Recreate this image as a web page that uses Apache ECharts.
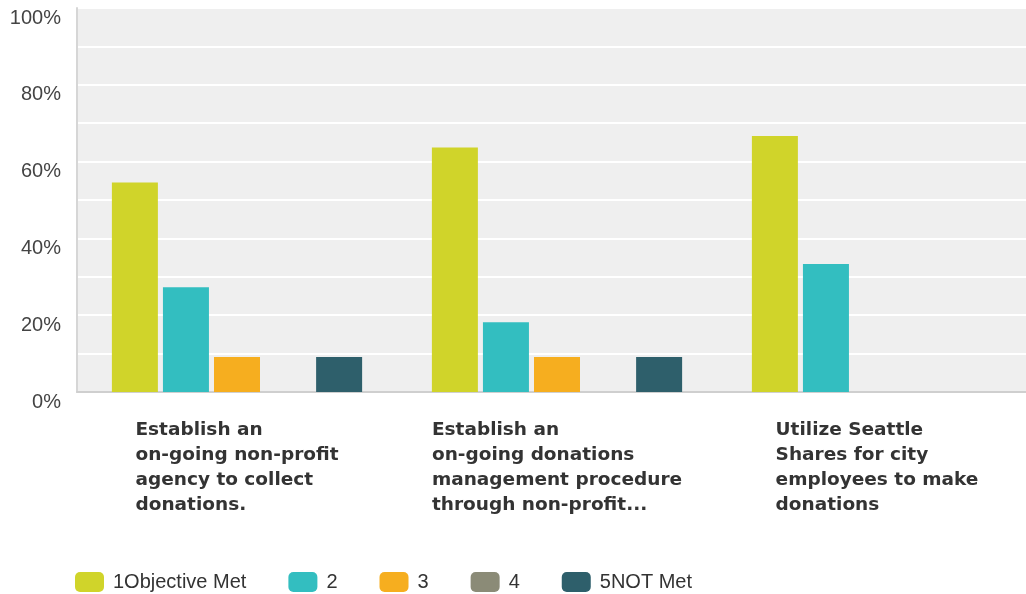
<!DOCTYPE html>
<html>
<head>
<meta charset="utf-8">
<script src="https://cdn.jsdelivr.net/npm/echarts@6/dist/echarts.min.js"></script>
<style>html,body{margin:0;padding:0;background:#fff;overflow:hidden}#c{width:1037px;height:594px}</style>
</head>
<body>
<div id="c"></div>
<script>
var categories = [
  "Establish an\non-going non-profit\nagency to collect\ndonations.",
  "Establish an\non-going donations\nmanagement procedure\nthrough non-profit...",
  "Utilize Seattle\nShares for city\nemployees to make\ndonations"
];
var seriesNames = ["1Objective Met", "2", "3", "4", "5NOT Met"];
var s1 = [54.55, 63.64, 66.67];
var s2 = [27.27, 18.18, 33.33];
var s3 = [9.09, 9.09, 0];
var s4 = [0, 0, 0];
var s5 = [9.09, 9.09, 0];
var yTicks = [0, 20, 40, 60, 80, 100];

var colors = ["#d0d42a", "#33bec0", "#f6ae1f", "#8b8b77", "#2e5f6b"];
var allData = [s1, s2, s3, s4, s5];

var chart = echarts.init(document.getElementById('c'), null, {renderer: 'canvas'});
var series = seriesNames.map(function (n, i) {
  return {
    name: n,
    type: 'bar',
    data: allData[i],
    barWidth: 46,
    barGap: '11%',
    itemStyle: {color: colors[i]}
  };
});

chart.setOption({
  animation: false,
  color: colors,
  grid: {left: 77, top: 8, right: 0, bottom: 202, show: true, backgroundColor: '#efefef', borderWidth: 0},
  legend: {
    left: 75, top: 572, padding: 0,
    itemWidth: 29, itemHeight: 20, itemGap: 42,
    icon: 'roundRect',
    textStyle: {fontFamily: 'Liberation Sans', fontSize: 20, color: '#333', padding: [0, 0, 0, 4]},
    data: seriesNames
  },
  xAxis: {
    type: 'category',
    data: categories,
    axisTick: {show: false},
    axisLine: {show: true, lineStyle: {color: '#cfcfcf', width: 2}},
    axisLabel: {
      interval: 0,
      margin: 26,
      align: 'center',
      formatter: function (v) {
        return v.split('\n').map(function (l) { return '{a|' + l + '}'; }).join('\n');
      },
      rich: {
        a: {fontFamily: 'DejaVu Sans', fontWeight: 'bold', fontSize: 18.5, lineHeight: 25, color: '#333', align: 'left'}
      }
    }
  },
  yAxis: {
    type: 'value',
    min: yTicks[0], max: yTicks[yTicks.length - 1], interval: 20,
    axisLine: {show: true, lineStyle: {color: '#d6d6d6', width: 2}},
    axisTick: {show: false},
    axisLabel: {
      formatter: '{value}%', margin: 16, verticalAlign: 'top',
      fontFamily: 'Liberation Sans', fontSize: 20, color: '#444'
    },
    splitLine: {show: true, lineStyle: {color: '#ffffff', width: 2}},
    minorTick: {show: false, splitNumber: 2},
    minorSplitLine: {show: true, lineStyle: {color: '#ffffff', width: 2}}
  },
  series: series
});
</script>
</body>
</html>
